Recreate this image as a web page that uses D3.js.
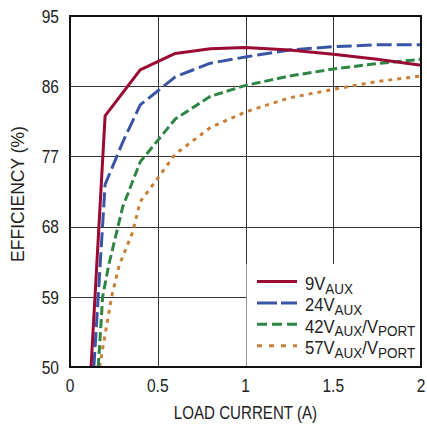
<!DOCTYPE html>
<meta charset="utf-8">
<head>
    <title>Efficiency vs Load Current</title>
    <script src="https://cdn.jsdelivr.net/npm/d3@7"></script>
    <style>
        body { margin: 0; background: #fff; }
        svg text { font-family: "Liberation Sans", Arial, sans-serif; fill: #222; }
    </style>
</head>
<body>
    <svg id="chart"></svg>
    <script>
        // data: [load current (A), efficiency (%)]
        var xTicks = [0, 0.5, 1, 1.5, 2];
        var xTickLabels = ["0", "0.5", "1", "1.5", "2"];
        var yTicks = [50, 59, 68, 77, 86, 95];

        var aux9 = [[0.12, 50], [0.2, 82.2], [0.4, 88.1], [0.6, 90.2], [0.8, 90.8], [1.0, 90.95],
            [1.25, 90.65], [1.5, 90.1], [1.75, 89.45], [2.0, 88.7]];
        var aux24 = [[0.136, 50], [0.2, 73.4], [0.3, 78.8], [0.4, 83.6], [0.6, 87.2], [0.8, 88.95],
            [1.0, 89.75], [1.25, 90.65], [1.5, 91.07], [1.75, 91.3], [2.0, 91.3]];
        var aux42 = [[0.161, 50], [0.186, 59], [0.22, 63], [0.3, 70.5], [0.4, 76.3], [0.6, 81.8],
            [0.8, 84.7], [1.0, 86.1], [1.25, 87.3], [1.5, 88.2], [1.75, 88.9], [2.0, 89.45]];
        var aux57 = [[0.168, 50], [0.237, 59], [0.28, 63], [0.357, 67.3], [0.4, 71.2], [0.5, 74.2],
            [0.6, 77.3], [0.8, 80.7], [1.0, 82.7], [1.25, 84.5], [1.5, 85.6], [1.75, 86.6], [2.0, 87.3]];

        var seriesNames = ["9V", "24V", "42V", "57V"];
        var seriesSubs = [["AUX"], ["AUX"], ["AUX", "/V", "PORT"], ["AUX", "/V", "PORT"]];
        var seriesData = [aux9, aux24, aux42, aux57];
        var seriesColors = ["#9a0a32", "#3a55a6", "#2e8644", "#c97f38"];
        var seriesDash = [null, "15,5", "9,4", "4,5"];
        var legendDash = [null, "20,4", "10,5", "5,7"];

        var w = 427, h = 425;
        var margin = { left: 70, top: 16, right: 6, bottom: 58 };

        var svg = d3.select("#chart").attr("width", w).attr("height", h);

        var x = d3.scaleLinear().domain([0, 2]).range([margin.left, w - margin.right]);
        var y = d3.scaleLinear().domain([50, 95]).range([h - margin.bottom, margin.top]);

        // original uses a condensed face, so squeeze text horizontally
        function label(parent, px, py, size, sx, anchor, rot) {
            return parent.append("text")
                .attr("transform", "translate(" + px + "," + py + ")" + (rot ? " rotate(" + rot + ")" : "") + " scale(" + sx + ",1)")
                .attr("text-anchor", anchor)
                .style("font-size", size + "px");
        }

        // grid
        var grid = svg.append("g");
        grid.selectAll(".vg").data(xTicks.slice(1, -1)).enter().append("line")
            .attr("x1", function (d) { return Math.round(x(d)) + 0.5; })
            .attr("x2", function (d) { return Math.round(x(d)) + 0.5; })
            .attr("y1", y(95)).attr("y2", y(50))
            .attr("stroke", "#333").attr("stroke-width", 1);
        grid.selectAll(".hg").data(yTicks.slice(1, -1)).enter().append("line")
            .attr("y1", function (d) { return Math.round(y(d)) + 0.5; })
            .attr("y2", function (d) { return Math.round(y(d)) + 0.5; })
            .attr("x1", x(0)).attr("x2", x(2))
            .attr("stroke", "#333").attr("stroke-width", 1);

        // lines
        var line = d3.line()
            .x(function (d) { return x(d[0]); })
            .y(function (d) { return y(d[1]); });

        svg.append("clipPath").attr("id", "plotclip").append("rect")
            .attr("x", x(0)).attr("y", y(95)).attr("width", x(2) - x(0)).attr("height", y(50) - y(95));

        // draw back to front so the red line sits on top
        for (var i = seriesData.length - 1; i >= 0; i--) {
            svg.append("path")
                .datum(seriesData[i])
                .attr("clip-path", "url(#plotclip)")
                .attr("fill", "none")
                .attr("stroke", seriesColors[i])
                .attr("stroke-width", 3)
                .attr("stroke-linejoin", "round")
                .attr("stroke-dasharray", seriesDash[i])
                .attr("d", line);
        }

        // legend box
        var lg = svg.append("g");
        lg.append("rect")
            .attr("x", x(1) + 1).attr("y", 264)
            .attr("width", x(2) - x(1) - 2).attr("height", y(50) - 264)
            .attr("fill", "#fff");

        seriesNames.forEach(function (name, i) {
            var ly = 281.5 + i * 21.4;
            lg.append("line")
                .attr("x1", 257).attr("x2", 297)
                .attr("y1", ly).attr("y2", ly)
                .attr("stroke", seriesColors[i])
                .attr("stroke-width", 3)
                .attr("stroke-dasharray", legendDash[i]);
            var t = label(lg, 305, ly + 8.5, 18.5, 0.9, "start");
            t.append("tspan").text(name);
            var subs = seriesSubs[i];
            t.append("tspan").attr("dy", 3.5).style("font-size", "15px").text(subs[0]);
            if (subs.length > 1) {
                t.append("tspan").attr("dy", -3.5).style("font-size", "18.5px").text(subs[1]);
                t.append("tspan").attr("dy", 3.5).style("font-size", "15px").text(subs[2]);
            }
        });

        // frame
        svg.append("rect")
            .attr("x", x(0)).attr("y", y(95))
            .attr("width", x(2) - x(0)).attr("height", y(50) - y(95))
            .attr("fill", "none").attr("stroke", "#111").attr("stroke-width", 2);

        // tick labels
        yTicks.forEach(function (d) {
            label(svg, 59, y(d) + 6.7, 18.5, 0.84, "end").text(d);
        });
        xTicks.forEach(function (d, i) {
            label(svg, x(d), 392, 18.5, 0.84, "middle").text(xTickLabels[i]);
        });

        // axis titles
        label(svg, x(1), 419, 18, 0.84, "middle").text("LOAD CURRENT (A)");
        label(svg, 24, 194, 17.5, 1.0, "middle", -90).text("EFFICIENCY (%)");
    </script>
</body>
</html>
